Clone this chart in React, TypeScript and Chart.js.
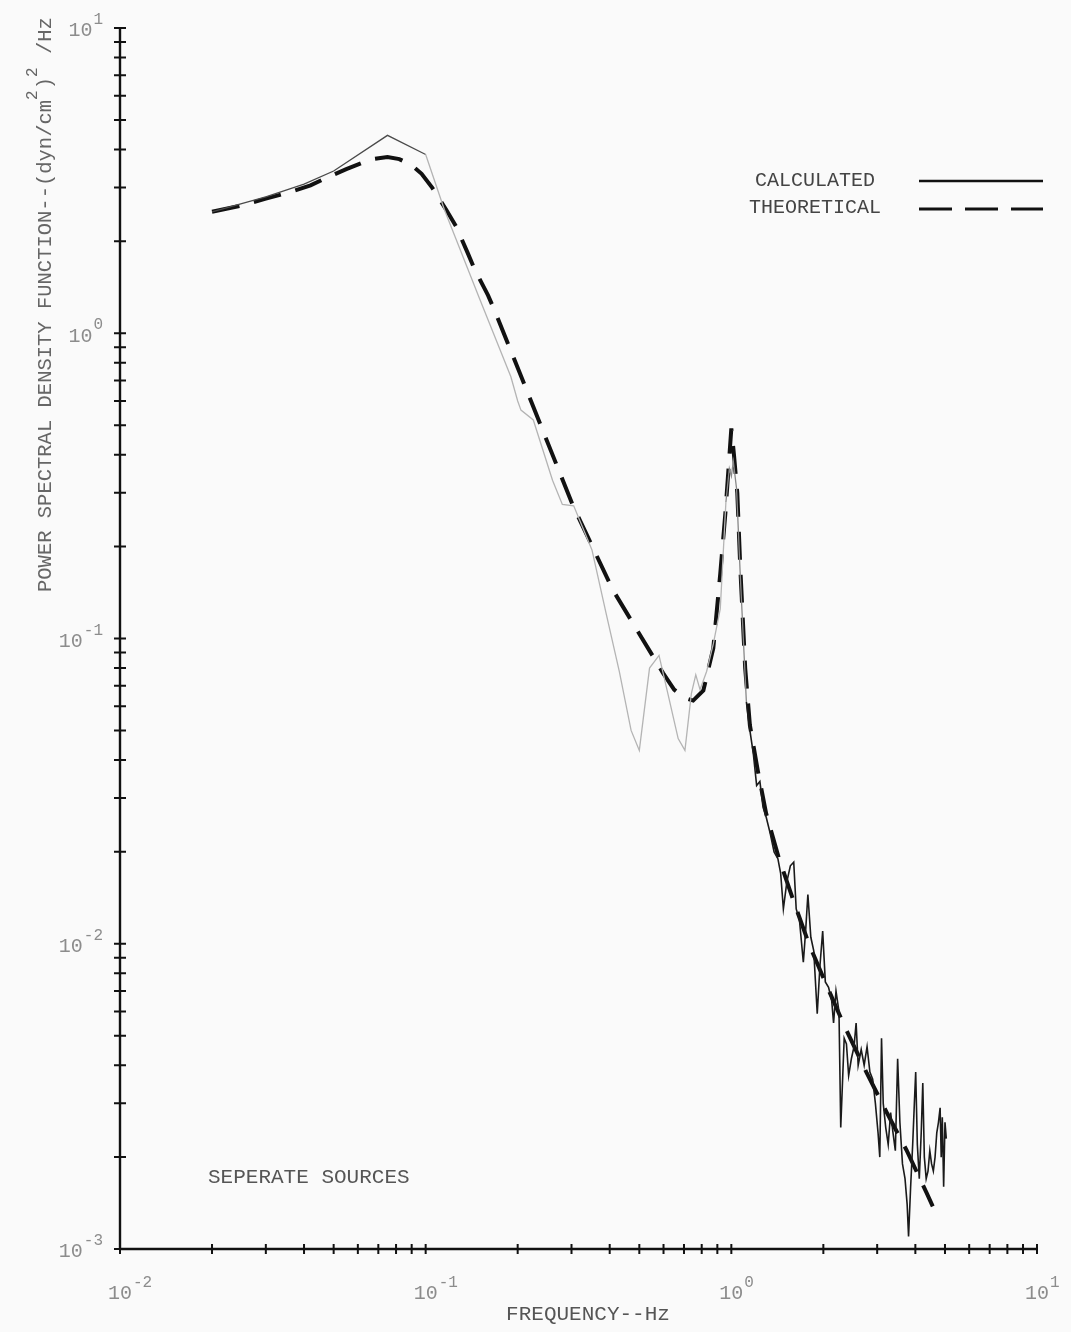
import React, { useEffect, useRef } from "react";
import { Chart, registerables } from "chart.js";

Chart.register(...registerables);

// ---------------- data ----------------
const calcFreq = [
  0.02, 0.03, 0.04, 0.05, 0.075, 0.1, 0.115, 0.15, 0.19, 0.2, 0.205, 0.225, 0.26, 0.28, 0.305,
  0.35, 0.39, 0.43, 0.47, 0.5, 0.54, 0.58, 0.62, 0.67, 0.705, 0.74, 0.765, 0.79, 0.83, 0.873,
  0.92, 0.96, 0.985, 1.0, 1.015, 1.04, 1.07, 1.1, 1.12,
  1.15, 1.18, 1.21, 1.24, 1.27, 1.3, 1.34, 1.38, 1.42, 1.45, 1.48, 1.52, 1.56, 1.6, 1.63, 1.67,
  1.72, 1.75, 1.78, 1.82, 1.86, 1.91, 1.95, 1.99, 2.03, 2.08, 2.13, 2.16, 2.2, 2.25, 2.28, 2.31,
  2.34, 2.38, 2.42, 2.47, 2.52, 2.56, 2.6, 2.66, 2.72, 2.78, 2.84, 2.9, 2.96, 3.02, 3.06, 3.1,
  3.14, 3.2, 3.26, 3.32, 3.38, 3.44, 3.5, 3.56, 3.63, 3.7, 3.76, 3.8, 3.86, 3.92, 3.97, 4.01,
  4.06, 4.12, 4.18, 4.23, 4.28, 4.34, 4.4, 4.46, 4.52, 4.58, 4.64, 4.7, 4.76, 4.82, 4.86, 4.9,
  4.95, 5.0, 5.05,
];
const calcPsd = [
  2.5, 2.8, 3.08, 3.4, 4.45, 3.85, 2.55, 1.3, 0.72, 0.6, 0.56, 0.52, 0.33, 0.275, 0.272,
  0.195, 0.12, 0.078, 0.05, 0.043, 0.08, 0.088, 0.066, 0.047, 0.043, 0.066, 0.076, 0.068, 0.078, 0.096,
  0.125, 0.28, 0.36, 0.34, 0.38, 0.31, 0.16, 0.09, 0.062,
  0.05, 0.042, 0.033, 0.034, 0.028, 0.026, 0.023, 0.02, 0.019, 0.017, 0.013, 0.016, 0.018, 0.0185, 0.013, 0.012,
  0.0087, 0.011, 0.0145, 0.0105, 0.0095, 0.0059, 0.0085, 0.011, 0.0075, 0.0072, 0.0065, 0.0055, 0.007, 0.006, 0.0025, 0.0035,
  0.0049, 0.0047, 0.0037, 0.0042, 0.0046, 0.0055, 0.004, 0.0045, 0.004, 0.0046, 0.0038, 0.0036, 0.003, 0.0024, 0.002, 0.0049,
  0.003, 0.0025, 0.0022, 0.0028, 0.0024, 0.0021, 0.0042, 0.0026, 0.0019, 0.0017, 0.0014, 0.0011, 0.0016, 0.0022, 0.003, 0.0038,
  0.0022, 0.0017, 0.0024, 0.0035, 0.002, 0.0017, 0.0018, 0.0021, 0.0019, 0.0018, 0.002, 0.0024, 0.0026, 0.0029, 0.002, 0.0027,
  0.0016, 0.0026, 0.0023,
];

const theoFreq = [
  0.02, 0.025, 0.03, 0.036, 0.042, 0.048, 0.055, 0.062, 0.068, 0.075, 0.082, 0.09, 0.097, 0.105,
  0.117, 0.126, 0.137, 0.145, 0.16, 0.168, 0.216, 0.303, 0.41, 0.598, 0.65, 0.7, 0.75, 0.81,
  0.873, 0.92, 0.956, 1.0, 1.02, 1.046, 1.07, 1.11, 1.15, 1.22, 1.3, 1.43, 1.61, 1.8, 2.05,
  2.36, 2.77, 3.22, 3.74, 4.35, 4.56,
];
const theoPsd = [
  2.5, 2.62, 2.76, 2.9, 3.05, 3.25, 3.45, 3.62, 3.73, 3.78, 3.72, 3.55, 3.33, 3.0,
  2.53, 2.23, 1.84, 1.61, 1.33, 1.19, 0.636, 0.273, 0.144, 0.077, 0.068, 0.064, 0.0626, 0.0676,
  0.093, 0.163, 0.257, 0.488, 0.4, 0.3, 0.17, 0.08, 0.052, 0.037, 0.0267, 0.0191, 0.0135, 0.0099, 0.0073,
  0.0053, 0.00378, 0.00281, 0.00211, 0.00153, 0.00138,
];

const xDecades = [-2, -1, 0, 1];
const yDecades = [-3, -2, -1, 0, 1];
const seriesLabels = ["CALCULATED", "THEORETICAL"];
const xTitle = "FREQUENCY--Hz";
const yTitleParts = [
  { t: "POWER SPECTRAL DENSITY FUNCTION--(dyn/cm", sup: false },
  { t: "2", sup: true },
  { t: ")", sup: false },
  { t: "2", sup: true },
  { t: " /Hz", sup: false },
];
const noteText = "SEPERATE SOURCES";

// ---------------- drawing helpers ----------------
const FONT = '"Liberation Mono", "Courier New", monospace';

function font(size: number) {
  return `${size}px ${FONT}`;
}

const paperPlugin = {
  id: "paper",
  beforeDraw(chart: any) {
    const { ctx, width, height } = chart;
    ctx.save();
    ctx.fillStyle = "#fafafa";
    ctx.fillRect(0, 0, width, height);
    ctx.restore();
  },
  afterDraw(chart: any) {
    const { ctx } = chart;
    const xs = chart.scales.x;
    const ys = chart.scales.y;
    const x0 = xs.getPixelForValue(0.01);
    const x1 = xs.getPixelForValue(10);
    const yb = ys.getPixelForValue(0.001);
    const yt = ys.getPixelForValue(10);
    ctx.save();
    // axes
    ctx.strokeStyle = "#111";
    ctx.lineWidth = 2.4;
    ctx.beginPath();
    ctx.moveTo(x0, yb);
    ctx.lineTo(x1, yb);
    ctx.moveTo(x0, yb);
    ctx.lineTo(x0, yt);
    ctx.stroke();
    // tick marks
    ctx.lineWidth = 2;
    ctx.beginPath();
    for (let d = -2; d <= 0; d++) {
      for (let m = 1; m <= 10; m++) {
        const px = xs.getPixelForValue(m * Math.pow(10, d));
        ctx.moveTo(px, yb - 5);
        ctx.lineTo(px, yb + 5);
      }
    }
    for (let d = -3; d <= 0; d++) {
      for (let m = 1; m <= 10; m++) {
        const py = ys.getPixelForValue(m * Math.pow(10, d));
        ctx.moveTo(x0 - 6, py);
        ctx.lineTo(x0 + 6, py);
      }
    }
    ctx.stroke();

    // tick labels
    ctx.fillStyle = "#8c8c8c";
    ctx.textBaseline = "middle";
    ctx.textAlign = "left";
    const baseSize = 20;
    const expSize = 16;
    xDecades.forEach((d) => {
      const px = xs.getPixelForValue(Math.pow(10, d));
      ctx.font = font(baseSize);
      const bw = ctx.measureText("10").width;
      ctx.fillText("10", px - bw / 2, 1294);
      ctx.font = font(expSize);
      ctx.fillText(String(d), px + bw / 2 + 1, 1283);
    });
    yDecades.forEach((d) => {
      const py = ys.getPixelForValue(Math.pow(10, d));
      ctx.font = font(baseSize);
      const bw = ctx.measureText("10").width;
      ctx.font = font(expSize);
      const ew = ctx.measureText(String(d)).width;
      const start = 103 - ew - bw - 1;
      ctx.font = font(baseSize);
      ctx.fillText("10", start, py + 3);
      ctx.font = font(expSize);
      ctx.fillText(String(d), start + bw + 1, py - 8);
    });

    // x title
    ctx.fillStyle = "#555";
    ctx.font = font(21);
    ctx.textAlign = "center";
    ctx.fillText(xTitle, 588, 1314);

    // note
    ctx.textAlign = "left";
    ctx.fillStyle = "#555";
    ctx.font = font(21);
    ctx.fillText(noteText, 208, 1177);

    // y title (rotated)
    ctx.save();
    ctx.translate(51, 592);
    ctx.rotate(-Math.PI / 2);
    ctx.textBaseline = "alphabetic";
    ctx.fillStyle = "#666";
    let cx = 0;
    yTitleParts.forEach((p) => {
      ctx.font = font(p.sup ? 16 : 20.5);
      ctx.fillText(p.t, cx, p.sup ? -14 : 0);
      cx += ctx.measureText(p.t).width + (p.sup ? 1 : 0);
    });
    ctx.restore();

    // legend
    ctx.fillStyle = "#444";
    ctx.textAlign = "center";
    ctx.textBaseline = "middle";
    ctx.font = font(20);
    ctx.fillText(seriesLabels[0], 815, 181);
    ctx.fillText(seriesLabels[1], 815, 208);
    ctx.strokeStyle = "#111";
    ctx.lineWidth = 2.5;
    ctx.beginPath();
    ctx.moveTo(919, 181);
    ctx.lineTo(1043, 181);
    ctx.stroke();
    ctx.lineWidth = 3;
    ctx.setLineDash([33, 13]);
    ctx.beginPath();
    ctx.moveTo(919, 209);
    ctx.lineTo(1043, 209);
    ctx.stroke();
    ctx.setLineDash([]);
    ctx.restore();
  },
};

function calcColor(f: number) {
  if (f < 0.1) return "#4a4a4a";
  if (f < 0.95) return "#b4b4b4";
  if (f < 1.12) return "#888";
  return "#1a1a1a";
}

export default function App() {
  const ref = useRef<HTMLCanvasElement | null>(null);
  useEffect(() => {
    if (!ref.current) return;
    const calcData = calcFreq.map((f, i) => ({ x: f, y: calcPsd[i] }));
    const theoData = theoFreq.map((f, i) => ({ x: f, y: theoPsd[i] }));
    const chart = new Chart(ref.current, {
      type: "line",
      data: {
        datasets: [
          {
            label: seriesLabels[0],
            data: calcData,
            borderColor: "#333",
            borderWidth: 1.3,
            pointRadius: 0,
            tension: 0,
            fill: false,
            segment: {
              borderColor: (c: any) => calcColor(c.p0.parsed.x),
              borderWidth: (c: any) => (c.p0.parsed.x >= 1.12 ? 1.6 : 1.3),
            },
          },
          {
            label: seriesLabels[1],
            data: theoData,
            borderColor: "#111",
            borderWidth: 4,
            borderDash: [28, 15],
            pointRadius: 0,
            tension: 0,
            fill: false,
          },
        ],
      },
      options: {
        animation: false,
        responsive: false,
        maintainAspectRatio: false,
        devicePixelRatio: 1,
        layout: { padding: { left: 120, right: 34, top: 28, bottom: 83 } },
        plugins: { legend: { display: false }, tooltip: { enabled: false } },
        scales: {
          x: {
            type: "logarithmic",
            min: 0.01,
            max: 10,
            display: false,
          },
          y: {
            type: "logarithmic",
            min: 0.001,
            max: 10,
            display: false,
          },
        },
      },
      plugins: [paperPlugin],
    } as any);
    return () => chart.destroy();
  }, []);
  return (
    <div style={{ position: "absolute", left: 0, top: 0, width: 1071, height: 1332 }}>
      <canvas ref={ref} width={1071} height={1332} style={{ display: "block" }} />
    </div>
  );
}
